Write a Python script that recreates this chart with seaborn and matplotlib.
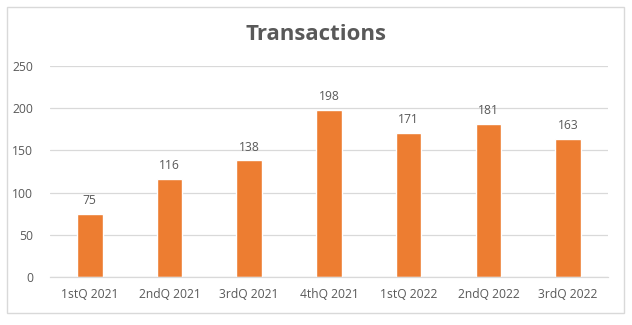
import matplotlib
matplotlib.use("Agg")
import matplotlib.pyplot as plt
import seaborn as sns
import pandas as pd
from matplotlib.patches import Rectangle

quarters = ["1stQ 2021", "2ndQ 2021", "3rdQ 2021", "4thQ 2021",
            "1stQ 2022", "2ndQ 2022", "3rdQ 2022"]
transactions = [75, 116, 138, 198, 171, 181, 163]
y_ticks = [0, 50, 100, 150, 200, 250]

df = pd.DataFrame({"quarter": quarters, "transactions": transactions})

sns.set_theme(style="white")
plt.rcParams["font.family"] = ["Open Sans", "DejaVu Sans"]

text_color = "#595959"
grid_color = "#D9D9D9"
bar_color = "#ED7D31"

fig = plt.figure(figsize=(6.32, 3.25), dpi=100)
fig.patch.set_facecolor("white")
ax = fig.add_axes([0.079, 0.148, 0.883, 0.649])

sns.barplot(data=df, x="quarter", y="transactions", color=bar_color,
            width=0.32, saturation=1, ax=ax)

ax.set_ylim(0, 250)
ax.set_xlim(-0.5, len(quarters) - 0.5)
ax.set_yticks(y_ticks)
ax.set_yticklabels([str(t) for t in y_ticks])
ax.yaxis.grid(True, color=grid_color, linewidth=0.9)
ax.set_axisbelow(True)
for side in ["top", "right", "left"]:
    ax.spines[side].set_visible(False)
ax.spines["bottom"].set_color(grid_color)
ax.spines["bottom"].set_linewidth(0.9)
ax.tick_params(axis="both", length=0, labelsize=8.7, colors=text_color, pad=8)
ax.tick_params(axis="y", pad=12)
ax.set_xlabel("")
ax.set_ylabel("")

for container in ax.containers:
    ax.bar_label(container, labels=[str(v) for v in transactions],
                 padding=5, fontsize=8.7, color=text_color)

fig.text(0.5, 0.893, "Transactions", ha="center", va="center",
         fontsize=16, fontweight="bold", color=text_color)

fig.patches.append(Rectangle((7 / 632, 1 - 313 / 325), 617 / 632, 306 / 325,
                             transform=fig.transFigure, fill=False,
                             edgecolor=grid_color, linewidth=1))

fig.savefig("out.png", dpi=100, facecolor="white")
